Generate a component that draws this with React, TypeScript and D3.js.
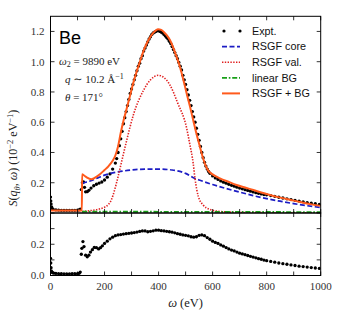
import React from "react";
import * as d3 from "d3";

// ---------- data (energy eV, value in 10^-2 eV^-1) ----------
const exptMain: [number, number][] = [
  [0, 0.105], [1, 0.08], [2, 0.06], [4, 0.04], [6, 0.03], [10, 0.024], [20, 0.02], [30, 0.019], [40, 0.018],
  [50, 0.018], [60, 0.018], [70, 0.018], [80, 0.018], [90, 0.018], [100, 0.019], [106, 0.02], [110, 0.025],
  [114, 0.155], [118, 0.2], [122, 0.205], [126, 0.17], [130, 0.14], [136, 0.141], [142, 0.15], [150, 0.165],
  [160, 0.18], [170, 0.19], [180, 0.198], [190, 0.205], [200, 0.218], [210, 0.237], [220, 0.258], [230, 0.29],
  [240, 0.33], [245, 0.36], [250, 0.4], [255, 0.445], [260, 0.49], [265, 0.54], [270, 0.59], [275, 0.63],
  [280, 0.67], [285, 0.71], [290, 0.75], [295, 0.79], [300, 0.82], [305, 0.85], [310, 0.88], [315, 0.91],
  [320, 0.94], [325, 0.97], [330, 0.99], [335, 1.02], [340, 1.04], [345, 1.07], [350, 1.09], [355, 1.11],
  [360, 1.13], [365, 1.15], [370, 1.165], [375, 1.18], [380, 1.19], [385, 1.195], [390, 1.2], [395, 1.205],
  [400, 1.205], [405, 1.2], [410, 1.195], [415, 1.19], [420, 1.18], [425, 1.17], [430, 1.16], [435, 1.15],
  [440, 1.135], [445, 1.12], [450, 1.1], [455, 1.08], [460, 1.06], [465, 1.04], [470, 1.02], [475, 0.995],
  [480, 0.97], [485, 0.945], [490, 0.91], [495, 0.88], [500, 0.85], [505, 0.815], [510, 0.78], [515, 0.745],
  [520, 0.71], [525, 0.67], [530, 0.635], [535, 0.6], [540, 0.56], [545, 0.52], [550, 0.48], [555, 0.44],
  [560, 0.4], [565, 0.365], [570, 0.335], [575, 0.31], [580, 0.29], [585, 0.275], [590, 0.262], [600, 0.245],
  [610, 0.232], [620, 0.222], [630, 0.212], [640, 0.204], [650, 0.197], [660, 0.19], [670, 0.183], [680, 0.177],
  [690, 0.171], [700, 0.165], [710, 0.16], [720, 0.154], [730, 0.149], [740, 0.144], [750, 0.139], [760, 0.134],
  [770, 0.13], [780, 0.126], [790, 0.122], [800, 0.12], [815, 0.115], [830, 0.11], [845, 0.104], [860, 0.099],
  [875, 0.094], [890, 0.089], [905, 0.084], [920, 0.079], [935, 0.074], [950, 0.069], [965, 0.065], [980, 0.061],
  [995, 0.057],
];

const rsgfCore: [number, number][] = [
  [117, 0.195], [130, 0.203], [150, 0.213], [175, 0.232], [200, 0.25], [250, 0.272], [300, 0.284], [350, 0.29],
  [400, 0.29], [450, 0.284], [500, 0.262], [535, 0.228], [550, 0.218], [600, 0.188], [650, 0.162], [700, 0.138],
  [750, 0.115], [800, 0.095], [850, 0.078], [900, 0.062], [950, 0.048], [1000, 0.036],
];

const rsgfVal: [number, number][] = [
  [117, 0.01], [150, 0.016], [180, 0.026], [200, 0.038], [215, 0.058], [225, 0.086], [237, 0.15], [250, 0.24],
  [262, 0.33], [282, 0.48], [307, 0.65], [344, 0.81], [370, 0.88], [398, 0.91], [420, 0.895], [442, 0.846],
  [470, 0.73], [504, 0.56], [515, 0.46], [528, 0.33], [535, 0.225], [547, 0.11], [565, 0.053], [590, 0.024],
  [627, 0.01], [700, 0.004], [800, 0.002], [1000, 0.001],
];

const linearBG: [number, number][] = [
  [117, 0.009], [1000, 0.006],
];

const rsgfBG: [number, number][] = [
  [0, 0.016], [116, 0.016], [117, 0.256], [130, 0.24], [151, 0.223], [175, 0.245], [200, 0.284], [215, 0.31],
  [230, 0.345], [240, 0.38], [250, 0.44], [260, 0.53], [270, 0.61], [282, 0.69], [295, 0.78], [306, 0.857],
  [318, 0.93], [331, 1.0], [343, 1.065], [356, 1.12], [368, 1.16], [380, 1.19], [390, 1.207], [398, 1.214],
  [410, 1.21], [420, 1.195], [430, 1.175], [442, 1.143], [455, 1.09], [467, 1.03], [479, 0.967], [491, 0.885],
  [504, 0.79], [516, 0.705], [528, 0.615], [540, 0.525], [553, 0.438], [565, 0.36], [575, 0.31], [584, 0.28],
  [600, 0.255], [627, 0.229], [660, 0.205], [689, 0.185], [720, 0.168], [751, 0.152], [780, 0.135], [812, 0.119],
  [843, 0.105], [874, 0.093], [905, 0.08], [936, 0.068], [967, 0.057], [1000, 0.047],
];

const residual: [number, number][] = [
  [0, 0.11], [1, 0.08], [2, 0.05], [3, 0.03], [5, 0.022], [8, 0.018], [12, 0.015], [20, 0.013], [30, 0.012],
  [40, 0.012], [50, 0.011], [60, 0.011], [70, 0.011], [80, 0.012], [90, 0.012], [100, 0.012], [106, 0.014],
  [110, 0.022], [114, 0.136], [116, 0.174], [120, 0.217], [124, 0.185], [130, 0.13], [136, 0.12], [142, 0.13],
  [148, 0.15], [155, 0.165], [162, 0.18], [170, 0.178], [178, 0.17], [185, 0.178], [192, 0.19], [200, 0.205],
  [210, 0.22], [220, 0.235], [230, 0.245], [240, 0.255], [250, 0.26], [260, 0.262], [270, 0.265], [280, 0.268],
  [290, 0.27], [300, 0.272], [310, 0.275], [320, 0.278], [330, 0.282], [340, 0.285], [350, 0.285], [360, 0.28],
  [370, 0.283], [380, 0.286], [390, 0.29], [400, 0.29], [410, 0.287], [420, 0.285], [430, 0.283], [440, 0.28],
  [450, 0.277], [460, 0.273], [470, 0.268], [480, 0.264], [490, 0.26], [500, 0.257], [510, 0.254], [520, 0.248],
  [530, 0.245], [540, 0.248], [550, 0.257], [560, 0.26], [570, 0.255], [580, 0.243], [590, 0.232], [600, 0.22],
  [610, 0.212], [620, 0.205], [630, 0.196], [640, 0.188], [650, 0.179], [660, 0.17], [670, 0.163], [680, 0.157],
  [690, 0.15], [700, 0.143], [710, 0.138], [720, 0.133], [730, 0.128], [740, 0.123], [750, 0.118], [760, 0.113],
  [770, 0.108], [780, 0.104], [790, 0.099], [800, 0.095], [815, 0.09], [830, 0.085], [845, 0.08], [860, 0.076],
  [875, 0.072], [890, 0.068], [905, 0.064], [920, 0.06], [935, 0.057], [950, 0.054], [965, 0.051], [980, 0.048],
  [995, 0.045],
];

const xTicks = [0, 100, 200, 300, 400, 500, 600, 700, 800, 900, 1000];
const xLabels = [0, 200, 400, 600, 800, 1000];
const mainYTicks = [0, 0.2, 0.4, 0.6, 0.8, 1.0, 1.2];
const resYTicks = [0, 0.1, 0.2, 0.3];
const resYLabels = [0, 0.2];

const legendItems = ["Expt.", "RSGF core", "RSGF val.", "linear BG", "RSGF + BG"];

// ---------- styles ----------
const C_CORE = "#1c1cc4";
const C_VAL = "#e02020";
const C_BG = "#18a018";
const C_SUM = "#ff5a1c";
const SERIF = "'Liberation Serif', 'DejaVu Serif', serif";
const SANS = "'Liberation Sans', Arial, sans-serif";

export default function App() {
  const X0 = 50.5, X1 = 320.7, YT = 16.3, YM = 213, YB = 275.5;
  const x = d3.scaleLinear().domain([0, 1000]).range([X0, X1]);
  const yMain = d3.scaleLinear().domain([0, 1.3]).range([YM, YT]);
  const yRes = d3.scaleLinear().domain([0, 0.4]).range([YB, YM]);
  const lineMain = d3
    .line<[number, number]>()
    .x((d) => x(d[0]))
    .y((d) => yMain(d[1]))
    .curve(d3.curveMonotoneX);
  const fmt = d3.format(".1f");
  const TL = 4;
  const r = 1.65;

  const legendX = 222, legendY0 = 31, legendDy = 15.6;

  return (
    <svg width={338} height={324} style={{ position: "absolute", left: 0, top: 0, background: "#fff" }}>
      <defs>
        <clipPath id="clipMain">
          <rect x={X0} y={YT} width={X1 - X0} height={YM - YT} />
        </clipPath>
        <clipPath id="clipRes">
          <rect x={X0} y={YM} width={X1 - X0} height={YB - YM} />
        </clipPath>
      </defs>

      {/* main panel data */}
      <g clipPath="url(#clipMain)">
        {exptMain.map((d, i) => (
          <circle key={i} cx={x(d[0])} cy={yMain(d[1])} r={r} fill="#000" />
        ))}
        <path d={lineMain(rsgfCore) || ""} fill="none" stroke={C_CORE} strokeWidth={1.7} strokeDasharray="5,2.5" />
        <path d={lineMain(rsgfVal) || ""} fill="none" stroke={C_VAL} strokeWidth={1.6} strokeDasharray="1.4,1.4" />
        <path d={lineMain(linearBG) || ""} fill="none" stroke={C_BG} strokeWidth={1.8} strokeDasharray="5,1.8,1.6,1.8" />
        <path d={lineMain(rsgfBG) || ""} fill="none" stroke={C_SUM} strokeWidth={2} />
      </g>

      {/* residual panel data */}
      <g clipPath="url(#clipRes)">
        {residual.map((d, i) => (
          <circle key={i} cx={x(d[0])} cy={yRes(d[1])} r={r} fill="#000" />
        ))}
      </g>

      {/* ticks */}
      <g stroke="#000" strokeWidth={0.8}>
        {xTicks.map((t) => (
          <g key={"xt" + t}>
            <line x1={x(t)} x2={x(t)} y1={YT} y2={YT + TL} />
            <line x1={x(t)} x2={x(t)} y1={YM} y2={YM - TL} />
            <line x1={x(t)} x2={x(t)} y1={YM} y2={YM + TL} />
            <line x1={x(t)} x2={x(t)} y1={YB} y2={YB - TL} />
          </g>
        ))}
        {mainYTicks.map((t) => (
          <g key={"ym" + t}>
            <line x1={X0} x2={X0 + TL} y1={yMain(t)} y2={yMain(t)} />
            <line x1={X1} x2={X1 - TL} y1={yMain(t)} y2={yMain(t)} />
          </g>
        ))}
        {resYTicks.map((t) => (
          <g key={"yr" + t}>
            <line x1={X0} x2={X0 + TL} y1={yRes(t)} y2={yRes(t)} />
            <line x1={X1} x2={X1 - TL} y1={yRes(t)} y2={yRes(t)} />
          </g>
        ))}
      </g>

      {/* frames */}
      <rect x={X0} y={YT} width={X1 - X0} height={YM - YT} fill="none" stroke="#000" strokeWidth={1} />
      <rect x={X0} y={YM} width={X1 - X0} height={YB - YM} fill="none" stroke="#000" strokeWidth={1} />

      {/* tick labels */}
      <g fontFamily={SERIF} fontSize={11} fill="#333">
        {mainYTicks.map((t) => (
          <text key={"lm" + t} x={X0 - 6} y={yMain(t)} dy="0.35em" textAnchor="end">
            {fmt(t)}
          </text>
        ))}
        {resYLabels.map((t) => (
          <text key={"lr" + t} x={X0 - 6} y={yRes(t)} dy="0.35em" textAnchor="end">
            {fmt(t)}
          </text>
        ))}
        {xLabels.map((t) => (
          <text key={"lx" + t} x={x(t)} y={YB + 14} textAnchor="middle">
            {t}
          </text>
        ))}
      </g>

      {/* axis labels */}
      <text x={(X0 + X1) / 2} y={307} textAnchor="middle" fontFamily={SERIF} fontSize={12.5} fill="#222">
        <tspan fontStyle="italic">ω</tspan> (eV)
      </text>
      <text transform="translate(17,158) rotate(-90)" textAnchor="middle" fontFamily={SERIF} fontSize={12} fill="#222">
        <tspan fontStyle="italic">S</tspan>(<tspan fontStyle="italic">q</tspan>
        <tspan fontStyle="italic" fontSize={8.5} dy={2.5}>θ</tspan>
        <tspan dy={-2.5}>, </tspan>
        <tspan fontStyle="italic">ω</tspan>) (10
        <tspan fontSize={8.5} dy={-4.5}>−2</tspan>
        <tspan dy={4.5}> eV</tspan>
        <tspan fontSize={8.5} dy={-4.5}>−1</tspan>
        <tspan dy={4.5}>)</tspan>
      </text>

      {/* annotations */}
      <text x={59} y={44} fontFamily={SANS} fontSize={18} fill="#000">Be</text>
      <g fontFamily={SERIF} fontSize={11} fill="#222">
        <text x={59} y={65}>
          <tspan fontStyle="italic">ω</tspan>
          <tspan fontSize={8} dy={2}>2</tspan>
          <tspan dy={-2}> = 9890 eV</tspan>
        </text>
        <text x={65} y={83}>
          <tspan fontStyle="italic">q</tspan> ∼ 10.2 Å
          <tspan fontSize={8} dy={-4.5}>−1</tspan>
        </text>
        <text x={65} y={101}>
          <tspan fontStyle="italic">θ</tspan> = 171°
        </text>
      </g>

      {/* legend */}
      <g fontFamily={SANS} fontSize={10.8} fill="#111">
        {legendItems.map((lab, i) => {
          const yy = legendY0 + i * legendDy;
          return (
            <g key={lab}>
              {i === 0 && (
                <>
                  <circle cx={legendX + 2} cy={yy} r={1.6} fill="#000" />
                  <circle cx={legendX + 18} cy={yy} r={1.6} fill="#000" />
                </>
              )}
              {i === 1 && (
                <line x1={legendX} x2={legendX + 18} y1={yy} y2={yy} stroke={C_CORE} strokeWidth={1.7} strokeDasharray="5,2.5" />
              )}
              {i === 2 && (
                <line x1={legendX} x2={legendX + 18} y1={yy} y2={yy} stroke={C_VAL} strokeWidth={1.6} strokeDasharray="1.4,1.4" />
              )}
              {i === 3 && (
                <line x1={legendX} x2={legendX + 18} y1={yy} y2={yy} stroke={C_BG} strokeWidth={1.8} strokeDasharray="5,1.8,1.6,1.8" />
              )}
              {i === 4 && (
                <line x1={legendX} x2={legendX + 18} y1={yy} y2={yy} stroke={C_SUM} strokeWidth={2} />
              )}
              <text x={legendX + 30} y={yy} dy="0.36em">
                {lab}
              </text>
            </g>
          );
        })}
      </g>
    </svg>
  );
}
